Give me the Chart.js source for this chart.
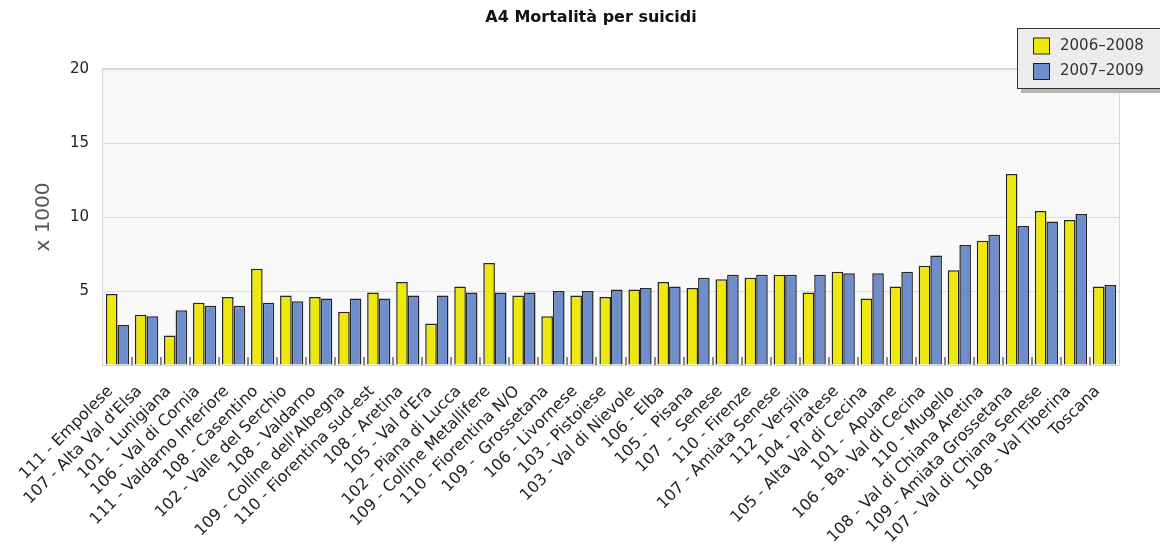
<!DOCTYPE html>
<html>
<head>
<meta charset="utf-8">
<script src="https://cdn.jsdelivr.net/npm/chart.js@4/dist/chart.umd.min.js"></script>
<style>
  html, body { margin: 0; background: #fff; }
</style>
</head>
<body>
<canvas id="graph" width="1160" height="553"></canvas>
<script>
const categories = [
  "111 - Empolese", "107 - Alta Val d'Elsa", "101 - Lunigiana", "106 - Val di Cornia",
  "111 - Valdarno Inferiore", "108 - Casentino", "102 - Valle del Serchio", "108 - Valdarno",
  "109 - Colline dell'Albegna", "110 - Fiorentina sud-est", "108 - Aretina", "105 - Val d'Era",
  "102 - Piana di Lucca", "109 - Colline Metallifere", "110 - Fiorentina N/O", "109 -  Grossetana",
  "106 - Livornese", "103 - Pistoiese", "103 - Val di Nievole", "106 - Elba", "105 -  Pisana",
  "107  -  Senese", "110 - Firenze", "107 - Amiata Senese", "112 - Versilia", "104 - Pratese",
  "105 - Alta Val di Cecina", "101 -  Apuane", "106 - Ba. Val di Cecina", "110 - Mugello",
  "108 - Val di Chiana Aretina", "109 - Amiata Grossetana", "107 - Val di Chiana Senese",
  "108 - Val Tiberina", "Toscana"
];
const seriesNames = ["2006\u20132008", "2007\u20132009"];
const values0608 = [4.8, 3.4, 2.0, 4.2, 4.6, 6.5, 4.7, 4.6, 3.6, 4.9, 5.6, 2.8, 5.3, 6.9, 4.7, 3.3, 4.7, 4.6,
  5.1, 5.6, 5.2, 5.8, 5.9, 6.1, 4.9, 6.3, 4.5, 5.3, 6.7, 6.4, 8.4, 12.9, 10.4, 9.8, 5.3];
const values0709 = [2.7, 3.3, 3.7, 4.0, 4.0, 4.2, 4.3, 4.5, 4.5, 4.5, 4.7, 4.7, 4.9, 4.9, 4.9, 5.0, 5.0, 5.1,
  5.2, 5.3, 5.9, 6.1, 6.1, 6.1, 6.1, 6.2, 6.2, 6.3, 7.4, 8.1, 8.8, 9.4, 9.7, 10.2, 5.4];
const yTicks = [5, 10, 15, 20];

const FONT = "'DejaVu Sans', Verdana, sans-serif";

// plot background, frame and the small separators between groups
const plotFrame = {
  id: 'plotFrame',
  beforeDraw(chart) {
    const { ctx, chartArea: a } = chart;
    ctx.save();
    ctx.fillStyle = '#f9f9f9';
    ctx.fillRect(a.left, a.top, a.width, a.height);
    ctx.restore();
  },
  beforeDatasetsDraw(chart) {
    const { ctx, chartArea: a } = chart;
    ctx.save();
    ctx.strokeStyle = '#d6d6d6';
    ctx.lineWidth = 1;
    ctx.strokeRect(a.left - 0.5, a.top - 0.5, a.width + 1, a.height + 1);
    ctx.restore();
  },
  afterDatasetsDraw(chart) {
    const { ctx, chartArea: a } = chart;
    const x = chart.scales.x;
    ctx.save();
    ctx.strokeStyle = '#666';
    ctx.lineWidth = 1.5;
    for (let i = 1; i < categories.length; i++) {
      const px = Math.round((x.getPixelForValue(i - 1) + x.getPixelForValue(i)) / 2);
      ctx.beginPath();
      ctx.moveTo(px, a.bottom - 8);
      ctx.lineTo(px, a.bottom);
      ctx.stroke();
    }
    ctx.restore();
  }
};

// title and boxed legend in the top right corner
const headerAndLegend = {
  id: 'headerAndLegend',
  afterDraw(chart) {
    const { ctx } = chart;
    ctx.save();
    ctx.fillStyle = '#111';
    ctx.font = "bold 16px " + FONT;
    ctx.textAlign = 'center';
    ctx.textBaseline = 'middle';
    ctx.fillText('A4 Mortalit\u00e0 per suicidi', 591, 18);

    ctx.fillStyle = '#b5b5b5';
    ctx.fillRect(1021, 32, 150, 61);
    ctx.fillStyle = '#ececec';
    ctx.fillRect(1017, 28, 150, 60);
    ctx.strokeStyle = '#333';
    ctx.lineWidth = 1;
    ctx.strokeRect(1017.5, 28.5, 150, 60);

    ctx.font = "15px " + FONT;
    ctx.textAlign = 'left';
    chart.data.datasets.forEach((ds, i) => {
      const y = 37.5 + i * 25.5;
      ctx.fillStyle = ds.backgroundColor;
      ctx.fillRect(1033, y, 16, 16);
      ctx.strokeStyle = '#222';
      ctx.strokeRect(1033.5, y + 0.5, 16, 16);
      ctx.fillStyle = '#333';
      ctx.fillText(ds.label, 1060, y + 8.5);
    });
    ctx.restore();
  }
};

const ctx = document.getElementById('graph').getContext('2d');
new Chart(ctx, {
  type: 'bar',
  data: {
    labels: categories,
    datasets: [
      {
        label: seriesNames[0],
        data: values0608,
        backgroundColor: '#efe80c',
        borderColor: '#262626',
        borderWidth: 1.5
      },
      {
        label: seriesNames[1],
        data: values0709,
        backgroundColor: '#6d8dcb',
        borderColor: '#262626',
        borderWidth: 1.5
      }
    ]
  },
  options: {
    responsive: false,
    animation: false,
    layout: { padding: { left: 28, right: 41, top: 69, bottom: 0 } },
    datasets: { bar: { categoryPercentage: 0.8, barPercentage: 1.0 } },
    plugins: {
      legend: { display: false },
      title: { display: false },
      tooltip: { enabled: false }
    },
    scales: {
      x: {
        grid: { display: false },
        border: { display: false },
        ticks: {
          autoSkip: false,
          minRotation: 45,
          maxRotation: 45,
          padding: 9,
          labelOffset: -7,
          color: '#222',
          font: { family: FONT, size: 16 }
        },
        afterFit: s => { s.height = 188; s.paddingLeft = 0; s.paddingRight = 0; }
      },
      y: {
        min: 0,
        max: 20,
        afterBuildTicks: s => { s.ticks = [0, ...yTicks].map(v => ({ value: v })); },
        grid: { color: '#dcdcdc', drawTicks: false },
        border: { display: false },
        ticks: {
          padding: 14,
          color: '#222',
          font: { family: FONT, size: 15 },
          callback: v => (v === 0 ? '' : v)
        },
        title: {
          display: true,
          text: 'x 1000',
          color: '#555',
          font: { family: FONT, size: 20 }
        },
        afterFit: s => { s.width = 75; }
      }
    }
  },
  plugins: [plotFrame, headerAndLegend]
});
</script>
</body>
</html>
